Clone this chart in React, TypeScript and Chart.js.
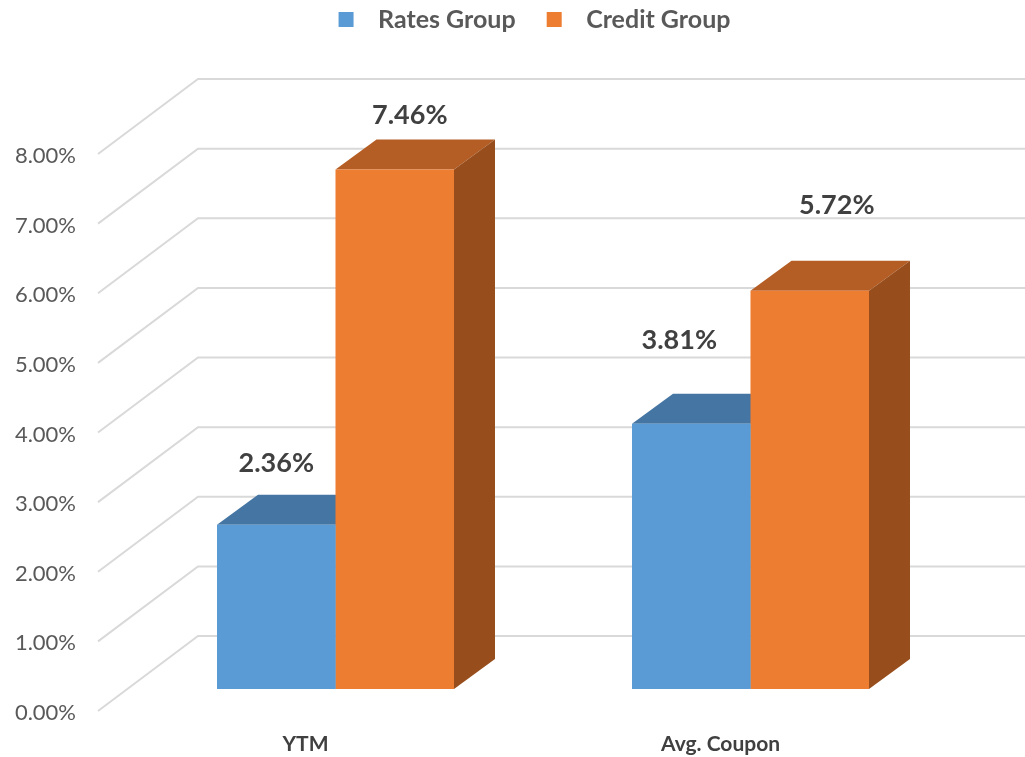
import React, { useEffect, useRef } from "react";
import { Chart, registerables } from "chart.js";

Chart.register(...registerables);

const categories = ["YTM", "Avg. Coupon"];
const rateValues = [2.36, 3.81];
const creditValues = [7.46, 5.72];
const seriesNames = ["Rates Group", "Credit Group"];

const FONT = "Lato, Carlito, Calibri, sans-serif";
const FRONT = ["#5B9BD5", "#ED7D31"];
const TOP = ["#4575A2", "#B45D24"];
const SIDE = ["#3A6287", "#984E1C"];
// Wall depth and bar placement inside the 3D box, in pixels.
const WALL = { dx: 100, dy: -75 };
const BAR_SHIFT = { dx: 30, dy: -22 };
const BAR_DEPTH = { dx: 41, dy: -30 };
// Data labels were placed by hand in the original, [dx, dy] from the bar's front top centre.
const labelNudges = [
  [[0, -61], [-12, -83]],
  [[15, -54], [27, -85]],
];

function legendMark(color: string) {
  const c = document.createElement("canvas");
  c.width = 51;
  c.height = 15;
  const g = c.getContext("2d")!;
  g.fillStyle = color;
  g.fillRect(24, 0, 15, 15);
  return c;
}

const depth3d = {
  id: "depth3d",
  beforeDatasetsDraw(chart: any) {
    const { ctx } = chart;
    const yScale = chart.scales.y;
    const left = chart.chartArea.left;
    ctx.save();
    ctx.strokeStyle = "#D9D9D9";
    ctx.lineWidth = 2;
    ctx.lineJoin = "miter";
    yScale.ticks.forEach((t: any) => {
      const y = yScale.getPixelForValue(t.value);
      ctx.beginPath();
      ctx.moveTo(left, y);
      ctx.lineTo(left + WALL.dx, y + WALL.dy);
      ctx.lineTo(chart.width, y + WALL.dy);
      ctx.stroke();
    });
    ctx.restore();

    ctx.save();
    ctx.translate(BAR_SHIFT.dx, BAR_SHIFT.dy);
    chart.data.datasets.forEach((_: any, di: number) => {
      chart.getDatasetMeta(di).data.forEach((bar: any) => {
        const p = bar.getProps(["x", "y", "base", "width"], true);
        const l = p.x - p.width / 2;
        const r = p.x + p.width / 2;
        const { dx, dy } = BAR_DEPTH;
        ctx.fillStyle = TOP[di];
        ctx.beginPath();
        ctx.moveTo(l, p.y);
        ctx.lineTo(l + dx, p.y + dy);
        ctx.lineTo(r + dx, p.y + dy);
        ctx.lineTo(r, p.y);
        ctx.closePath();
        ctx.fill();
        ctx.fillStyle = SIDE[di];
        ctx.beginPath();
        ctx.moveTo(r, p.y);
        ctx.lineTo(r + dx, p.y + dy);
        ctx.lineTo(r + dx, p.base + dy);
        ctx.lineTo(r, p.base);
        ctx.closePath();
        ctx.fill();
      });
    });
    // The front faces are drawn by Chart.js inside this same translation.
  },
  afterDatasetsDraw(chart: any) {
    const { ctx } = chart;
    ctx.restore();
    ctx.save();
    ctx.fillStyle = "#404040";
    ctx.font = `bold 27px ${FONT}`;
    ctx.textAlign = "center";
    ctx.textBaseline = "middle";
    chart.data.datasets.forEach((ds: any, di: number) => {
      chart.getDatasetMeta(di).data.forEach((bar: any, i: number) => {
        const p = bar.getProps(["x", "y"], true);
        const [nx, ny] = labelNudges[di][i];
        ctx.fillText(
          `${ds.data[i].toFixed(2)}%`,
          p.x + BAR_SHIFT.dx + nx,
          p.y + BAR_SHIFT.dy + ny
        );
      });
    });
    ctx.restore();
  },
};

export default function App() {
  const ref = useRef<HTMLCanvasElement>(null);
  useEffect(() => {
    document.body.style.margin = "0";
    const chart = new Chart(ref.current!, {
      type: "bar",
      data: {
        labels: categories,
        datasets: [
          { label: seriesNames[0], data: rateValues, backgroundColor: FRONT[0], clip: false },
          { label: seriesNames[1], data: creditValues, backgroundColor: FRONT[1], clip: false },
        ],
      } as any,
      options: {
        responsive: false,
        animation: false,
        layout: { padding: { left: 0, right: -20, top: 0, bottom: 0 } },
        datasets: { bar: { barPercentage: 1, categoryPercentage: 237 / 415 } },
        plugins: {
          tooltip: { enabled: false },
          legend: {
            position: "top",
            labels: {
              usePointStyle: true,
              pointStyleWidth: 51,
              padding: 7,
              color: "#595959",
              font: { family: FONT, size: 25, weight: "bold" },
              generateLabels: () =>
                seriesNames.map((text, i) => ({
                  text,
                  fillStyle: FRONT[i],
                  strokeStyle: FRONT[i],
                  lineWidth: 0,
                  pointStyle: legendMark(FRONT[i]),
                  datasetIndex: i,
                  fontColor: "#595959",
                })),
            },
          },
        },
        scales: {
          x: {
            grid: { display: false },
            border: { display: false },
            ticks: {
              color: "#404040",
              padding: 13,
              maxRotation: 0,
              font: { family: FONT, size: 21, weight: "bold" },
            },
            afterFit: (s: any) => {
              s.height = 46;
            },
          },
          y: {
            min: 0,
            max: 8,
            grid: { display: false },
            border: { display: false },
            ticks: {
              stepSize: 1,
              color: "#595959",
              padding: 14,
              labelOffset: 2,
              font: { family: FONT, size: 22 },
              callback: (v: any) => `${Number(v).toFixed(2)}%`,
            },
            afterFit: (s: any) => {
              s.width = 98;
            },
          },
          rightGutter: {
            type: "linear",
            position: "right",
            grid: { display: false },
            border: { display: false },
            ticks: { display: false },
            afterFit: (s: any) => {
              s.width = 117;
            },
          },
          topGutter: {
            type: "linear",
            position: "top",
            grid: { display: false },
            border: { display: false },
            ticks: { display: false },
            afterFit: (s: any) => {
              s.height = 112;
            },
          },
        },
      } as any,
      plugins: [depth3d],
    });
    return () => chart.destroy();
  }, []);
  return <canvas ref={ref} width={1025} height={757} style={{ display: "block" }} />;
}
